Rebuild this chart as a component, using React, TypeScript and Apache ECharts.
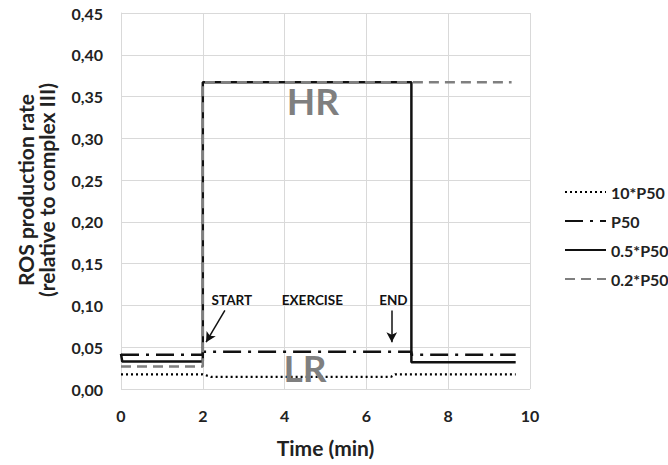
import React, { useEffect, useRef } from "react";
import * as echarts from "echarts";

const seriesNames = ["10*P50", "P50", "0.5*P50", "0.2*P50"];

const time10 = [0, 2, 2.2, 6.6, 6.7, 9.65];
const val10 = [0.0175, 0.0175, 0.0145, 0.0145, 0.0175, 0.0175];

const timeP50 = [0, 2, 2, 7.1, 7.1, 9.65];
const valP50 = [0.041, 0.041, 0.0445, 0.0445, 0.041, 0.041];

const time05 = [0, 0.03, 2, 2, 7.1, 7.1, 9.65];
const val05 = [0.042, 0.033, 0.033, 0.367, 0.367, 0.032, 0.032];

const time02 = [0, 2, 2, 9.55];
const val02 = [0.027, 0.027, 0.367, 0.367];

const xTicks = [0, 2, 4, 6, 8, 10];
const yMax = 0.45;
const yStep = 0.05;

const notes = [
  { text: "HR", x: 4.69, y: 0.3457, size: 37, color: "#7f7f7f" },
  { text: "LR", x: 4.5, y: 0.0263, size: 37, color: "#7f7f7f" },
  { text: "START", x: 2.71, y: 0.1065, size: 13.5, color: "#111" },
  { text: "EXERCISE", x: 4.68, y: 0.1065, size: 13.5, color: "#111" },
  { text: "END", x: 6.66, y: 0.1065, size: 13.5, color: "#111" },
];

const arrows = [
  { from: [2.54, 0.094], to: [2.08, 0.056] },
  { from: [6.62, 0.094], to: [6.62, 0.056] },
];

const FONT = "Lato";

function pairs(t: number[], v: number[]) {
  return t.map((x, i) => [x, v[i]]);
}

export default function App() {
  const ref = useRef<HTMLDivElement>(null);
  useEffect(() => {
    if (!ref.current) return;
    const chart = echarts.init(ref.current, null, { renderer: "svg" });
    const option: any = {
      animation: false,
      backgroundColor: "#fff",
      grid: { left: 121, top: 13, right: 138, bottom: 76 },
      legend: {
        orient: "vertical",
        left: 559,
        top: 179,
        itemWidth: 41,
        itemHeight: 14,
        itemGap: 13,
        data: seriesNames,
        itemStyle: { opacity: 0 },
        textStyle: { fontFamily: FONT, fontWeight: "bold", fontSize: 16, color: "#222", lineHeight: 15 },
      },
      xAxis: {
        type: "value",
        min: 0,
        max: 10,
        interval: 2,
        name: "Time (min)",
        nameLocation: "middle",
        nameGap: 48,
        nameTextStyle: { fontFamily: FONT, fontWeight: "bold", fontSize: 21, color: "#222" },
        axisLine: { show: false },
        axisTick: { show: false },
        axisLabel: {
          margin: 18,
          fontFamily: FONT,
          fontWeight: "bold",
          fontSize: 16,
          color: "#222",
          formatter: (v: number) => (xTicks.includes(v) ? String(v) : ""),
        },
        splitLine: { show: true, lineStyle: { color: "#d9d9d9", width: 1 } },
      },
      yAxis: {
        type: "value",
        min: 0,
        max: yMax,
        interval: yStep,
        axisLine: { show: true, lineStyle: { color: "#d9d9d9" } },
        axisTick: { show: false },
        axisLabel: {
          margin: 18,
          fontFamily: FONT,
          fontWeight: "bold",
          fontSize: 16,
          color: "#222",
          formatter: (v: number) => v.toFixed(2).replace(".", ","),
        },
        splitLine: { show: true, lineStyle: { color: "#d9d9d9", width: 1 } },
      },
      series: [
        {
          name: seriesNames[0],
          type: "line",
          symbol: "none",
          data: pairs(time10, val10),
          lineStyle: { color: "#000", width: 2.2, type: [2, 3] },
          itemStyle: { color: "#000" },
        },
        {
          name: seriesNames[1],
          type: "line",
          symbol: "none",
          data: pairs(timeP50, valP50),
          lineStyle: { color: "#111", width: 2.5, type: [18, 7, 3, 7] },
          itemStyle: { color: "#111" },
        },
        {
          name: seriesNames[2],
          type: "line",
          symbol: "none",
          data: pairs(time05, val05),
          lineStyle: { color: "#111", width: 2.5, type: "solid" },
          itemStyle: { color: "#111" },
          markLine: {
            silent: true,
            animation: false,
            symbol: ["none", "arrow"],
            symbolSize: [8, 10],
            label: { show: false },
            lineStyle: { color: "#111", width: 1.5, type: "solid" },
            data: arrows.map((a) => [{ coord: a.from }, { coord: a.to }]),
          },
        },
        {
          name: seriesNames[3],
          type: "line",
          symbol: "none",
          data: pairs(time02, val02),
          lineStyle: { color: "#7f7f7f", width: 2.5, type: [10, 6] },
          itemStyle: { color: "#7f7f7f" },
        },
      ],
    };
    chart.setOption(option);
    const graphics: any[] = notes.map((n) => {
      const p = chart.convertToPixel({ gridIndex: 0 }, [n.x, n.y]) as number[];
      return {
        type: "text",
        x: p[0],
        y: p[1],
        z: 10,
        style: {
          text: n.text,
          fill: n.color,
          font: `bold ${n.size}px ${FONT}`,
          textAlign: "center",
          textVerticalAlign: "middle",
        },
      };
    });
    graphics.push({
      type: "text",
      x: 36,
      y: 190,
      rotation: Math.PI / 2,
      style: {
        text: "ROS production rate\n(relative to complex III)",
        fill: "#222",
        font: `bold 21px ${FONT}`,
        lineHeight: 21,
        textAlign: "center",
        textVerticalAlign: "middle",
      },
    });
    chart.setOption({ graphic: graphics });
    return () => chart.dispose();
  }, []);
  return <div ref={ref} style={{ width: 668, height: 465, position: "absolute", left: 0, top: 0 }} />;
}
